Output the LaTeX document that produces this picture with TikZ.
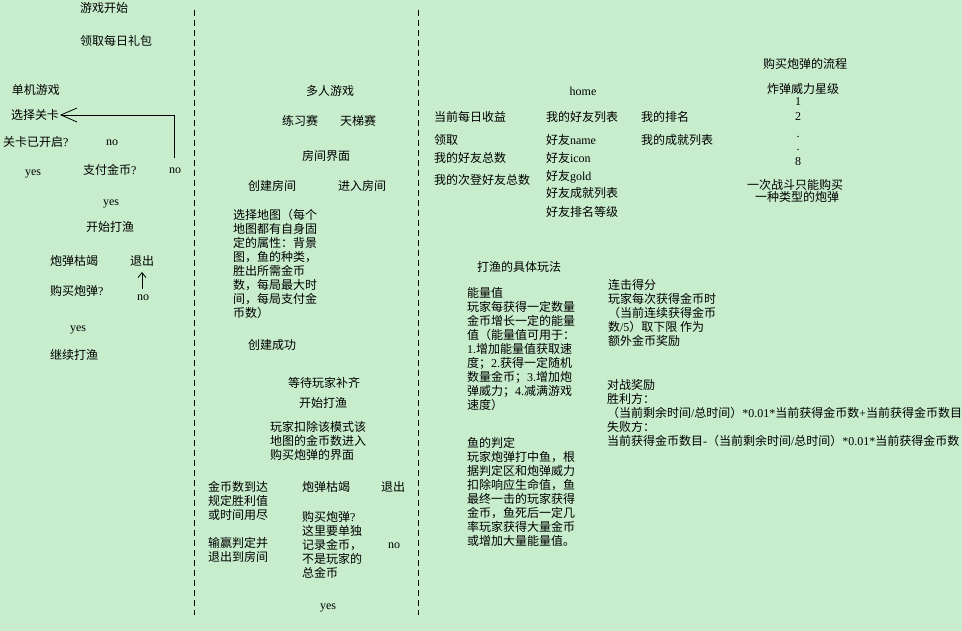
\documentclass[tikz,border=0pt]{standalone}
\usepackage{fontspec}
\usetikzlibrary{arrows.meta}
\newfontfamily\cjk{Noto Sans CJK SC}
\newfontfamily\lat{Liberation Serif}
\newcommand\latn[1]{{\lat #1}}
\definecolor{bggreen}{RGB}{199,237,204}
\begin{document}
\begin{tikzpicture}[x=1pt,y=-1pt,
  every node/.style={inner sep=0pt,outer sep=0pt,font=\cjk\fontsize{12}{14}\selectfont},
  lbl/.style={anchor=west},
  ctr/.style={anchor=center},
  para/.style={anchor=north west,align=left},
  word/.style={anchor=center,font=\lat\fontsize{12}{14}\selectfont},
  dashline/.style={draw=black,line width=0.9pt,dash pattern=on 6pt off 4pt},
  conn/.style={draw=black,line width=0.8pt}]
\fill[bggreen] (0,0) rectangle (962,631);
\useasboundingbox (0,0) rectangle (962,631);
% dividers
\coordinate (d1t) at (194,10); \coordinate (d1b) at (194,615);
\coordinate (d2t) at (418,10); \coordinate (d2b) at (418,615);
\draw[dashline] (d1t) -- (d1b);
\draw[dashline] (d2t) -- (d2b);
% column 1
\node[lbl] (n1) at (80,8) {游戏开始};
\node[lbl] (n2) at (80,41) {领取每日礼包};
\node[lbl] (n3) at (12,90) {单机游戏};
\node[lbl] (sel) at (11,115) {选择关卡};
\node[lbl] (n5) at (3,142) {关卡已开启\latn{?}};
\node[word] (no1) at (112,143) {no};
\node[lbl] (n6) at (83,170) {支付金币\latn{?}};
\node[word] (no2) at (175,171) {no};
\node[word] (yes1) at (33,174) {yes};
\node[word] (yes2) at (111,204) {yes};
\node[lbl] (n7) at (86,227) {开始打渔};
\node[lbl] (n8) at (50,261) {炮弹枯竭};
\node[lbl] (quit1) at (130,261) {退出};
\node[lbl] (n9) at (50,291) {购买炮弹\latn{?}};
\node[word] (no3) at (143,298) {no};
\node[word] (yes3) at (78,330) {yes};
\node[lbl] (n10) at (50,355) {继续打渔};
\coordinate (a1) at (174,158);
\draw[conn,-{Straight Barb[length=16pt,width=14pt,line width=0.8pt]}] (a1) |- ([xshift=1pt]sel.east);
\coordinate (a2s) at (142,289); \coordinate (a2e) at (142,272);
\draw[conn,-{Straight Barb[length=5pt,width=8pt,line width=0.8pt]}] (a2s) -- (a2e);
% column 2
\node[lbl] (m1) at (306,91) {多人游戏};
\node[lbl] (m2) at (282,121) {练习赛};
\node[lbl] (m3) at (340,121) {天梯赛};
\node[lbl] (m4) at (302,156) {房间界面};
\node[lbl] (m5) at (248,186) {创建房间};
\node[lbl] (m6) at (338,186) {进入房间};
\node[para] (m7) at (233,209.5) {选择地图（每个\\地图都有自身固\\定的属性：背景\\图，鱼的种类，\\胜出所需金币\\数，每局最大时\\间，每局支付金\\币数）};
\node[lbl] (m8) at (248,345) {创建成功};
\node[lbl] (m9) at (288,383) {等待玩家补齐};
\node[lbl] (m10) at (299,403) {开始打渔};
\node[para] (m11) at (270,421.5) {玩家扣除该模式该\\地图的金币数进入\\购买炮弹的界面};
\node[para] (m12) at (208,481.5) {金币数到达\\规定胜利值\\或时间用尽};
\node[lbl] (m13) at (302,487) {炮弹枯竭};
\node[lbl] (m14) at (381,487) {退出};
\node[para] (m15) at (208,537.5) {输赢判定并\\退出到房间};
\node[para] (m16) at (302,511.5) {购买炮弹\latn{?}\\这里要单独\\记录金币，\\不是玩家的\\总金币};
\node[word] (no4) at (394,546) {no};
\node[word] (yes4) at (328,608) {yes};
% column 3 top
\node[word] (home) at (583,91) {home};
\node[lbl] (h1) at (434,117) {当前每日收益};
\node[lbl] (h2) at (546,117) {我的好友列表};
\node[lbl] (h3) at (641,117) {我的排名};
\node[lbl] (h4) at (434,140) {领取};
\node[lbl] (h5) at (434,158) {我的好友总数};
\node[lbl] (h6) at (434,180) {我的次登好友总数};
\node[lbl] (f1) at (546,140) {好友\latn{name}};
\node[lbl] (f2) at (546,158) {好友\latn{icon}};
\node[lbl] (f3) at (546,177) {好友\latn{gold}};
\node[lbl] (f4) at (546,193) {好友成就列表};
\node[lbl] (f5) at (546,212) {好友排名等级};
\node[lbl] (h7) at (641,140) {我的成就列表};
% column 4
\node[ctr] (b1) at (805,64) {购买炮弹的流程};
\node[ctr] (b2) at (803,89) {炸弹威力星级};
\node[word] (s1) at (798,102) {1};
\node[word] (s2) at (798,117) {2};
\node[word] (s3) at (798,137) {.};
\node[word] (s4) at (798,150) {.};
\node[word] (s5) at (798,162) {8};
\node[ctr] (b3) at (795,185) {一次战斗只能购买};
\node[ctr] (b4) at (797,197) {一种类型的炮弹};
% lower right
\node[lbl] (p1) at (477,267) {打渔的具体玩法};
\node[para] (p2) at (467,287.5) {能量值\\玩家每获得一定数量\\金币增长一定的能量\\值（能量值可用于：\\\latn{1.}增加能量值获取速\\度；\latn{2.}获得一定随机\\数量金币；\latn{3.}增加炮\\弹威力；\latn{4.}减满游戏\\速度）};
\node[para] (p3) at (467,437.5) {鱼的判定\\玩家炮弹打中鱼，根\\据判定区和炮弹威力\\扣除响应生命值，鱼\\最终一击的玩家获得\\金币，鱼死后一定几\\率玩家获得大量金币\\或增加大量能量值。};
\node[para] (p4) at (608,279.5) {连击得分\\玩家每次获得金币时\\（当前连续获得金币\\数\latn{/5}）取下限 作为\\额外金币奖励};
\node[para] (p5) at (607,379.5) {对战奖励\\胜利方：\\（当前剩余时间\latn{/}总时间）\latn{*0.01*}当前获得金币数\latn{+}当前获得金币数目\\失败方：\\当前获得金币数目\latn{-}（当前剩余时间\latn{/}总时间）\latn{*0.01*}当前获得金币数};
\end{tikzpicture}
\end{document}
